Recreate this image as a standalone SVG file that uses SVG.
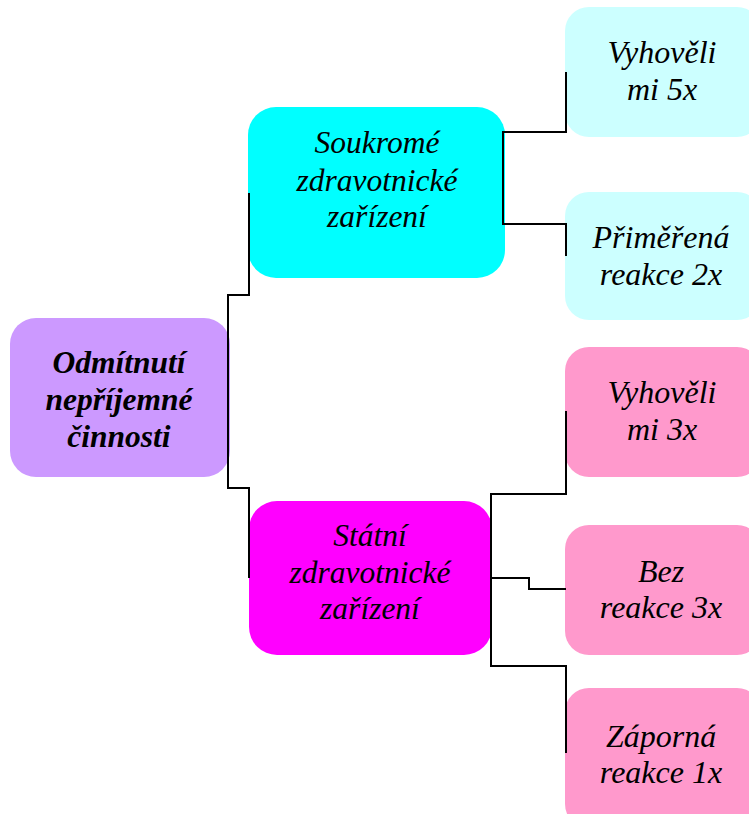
<svg xmlns="http://www.w3.org/2000/svg" width="749" height="814" viewBox="0 0 749 814">
<style>
text{font-family:"Liberation Serif","Times New Roman",serif;font-style:italic;font-size:32px;text-anchor:middle;fill:#000}
.b{font-weight:bold;font-size:31.5px}
.m{font-size:31.5px}
.c{fill:none;stroke:#000;stroke-width:2}
</style>
<rect width="749" height="814" fill="#fff"/>
<g id="root">
<rect x="10" y="318" width="220" height="159" rx="26" fill="#CC99FF"/>
<text class="b" x="119" y="373">Odmítnutí</text>
<text class="b" x="119" y="410">nepříjemné</text>
<text class="b" x="119" y="447">činnosti</text>
</g>
<g id="soukrome">
<rect x="248" y="107" width="257" height="171" rx="28" fill="#00FFFF"/>
<text class="m" x="377" y="153">Soukromé</text>
<text class="m" x="377" y="191">zdravotnické</text>
<text class="m" x="377" y="227">zařízení</text>
</g>
<g id="statni">
<rect x="249" y="501" width="243" height="154" rx="28" fill="#FF00FF"/>
<text class="m" x="370" y="546">Státní</text>
<text class="m" x="370" y="583">zdravotnické</text>
<text class="m" x="370" y="619">zařízení</text>
</g>
<g id="leaf1">
<rect x="565" y="7" width="196" height="130" rx="24" fill="#CCFFFF"/>
<text x="662" y="63">Vyhověli</text>
<text x="662" y="100">mi 5x</text>
</g>
<g id="leaf2">
<rect x="565" y="192" width="196" height="128" rx="24" fill="#CCFFFF"/>
<text x="661" y="248">Přiměřená</text>
<text x="661" y="285">reakce 2x</text>
</g>
<g id="leaf3">
<rect x="565" y="347" width="196" height="130" rx="24" fill="#FF99CC"/>
<text x="662" y="403">Vyhověli</text>
<text x="662" y="440">mi 3x</text>
</g>
<g id="leaf4">
<rect x="565" y="525" width="196" height="130" rx="24" fill="#FF99CC"/>
<text x="661" y="582">Bez</text>
<text x="661" y="618">reakce 3x</text>
</g>
<g id="leaf5">
<rect x="565" y="688" width="196" height="140" rx="24" fill="#FF99CC"/>
<text x="661" y="747">Záporná</text>
<text x="661" y="783">reakce 1x</text>
</g>
<g id="connectors">
<path class="c" d="M249,193 V295 H228 V488 H249 V578"/>
<path class="c" d="M566,72 V132 H503 V224 H566 V256"/>
<path class="c" d="M566,411 V494 H491 V666 H566 V753"/>
<path class="c" d="M491,578 H529 V589 H566"/>
</g>
</svg>
